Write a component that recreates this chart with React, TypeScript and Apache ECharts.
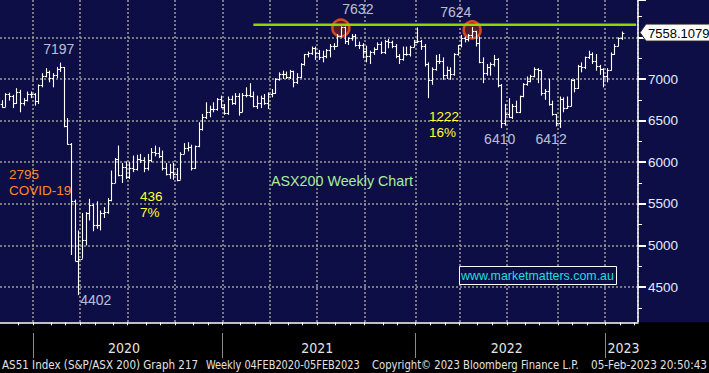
import React, { useEffect, useRef } from 'react';
import * as echarts from 'echarts';

// ---------- data (weekly OHLC, week ending Friday) ----------
const FIRST_WEEK_ENDING = '2019-11-01';
const TRAILING_EMPTY_WEEKS = 4;

const opens = [
  6700, 6669, 6814, 6794, 6715, 6846, 6707, 6749, 6817, 6821,
  6733, 6929, 7041, 7090, 7017, 7046, 7125, 7139, 6441, 6218,
  5539, 4817, 4842, 5067, 5387, 5487, 5242, 5246, 5391, 5405,
  5550, 5755, 6036, 5847, 5942, 5819, 5935, 5919, 6033, 6025,
  5928, 6028, 6126, 6111, 6073, 5925, 5859, 5878, 5864, 5792,
  6102, 6167, 6184, 5927, 6190, 6405, 6539, 6601, 6636, 6643,
  6756, 6664, 6587, 6758, 6715, 6800, 6607, 6806, 6805, 6793,
  6673, 6711, 6767, 6708, 6824, 6829, 6995, 7063, 7061, 7025,
  7092, 6959, 7030, 7179, 7296, 7312, 7369, 7308, 7265, 7273,
  7347, 7394, 7392, 7522, 7628, 7460, 7488, 7522, 7406, 7403,
  7342, 7276, 7320, 7362, 7415, 7324, 7457, 7443, 7396, 7279,
  7241, 7305, 7304, 7387, 7444, 7453, 7393, 7175, 6988, 7120,
  7217, 7221, 7049, 7111, 7064, 7296, 7406, 7493, 7479, 7523,
  7574, 7435, 7205, 7075, 7145, 7182, 7238, 6932, 6475, 6578,
  6548, 6677, 6605, 6791, 6945, 6974, 7032, 7115, 7104, 6829,
  6855, 6697, 6574, 6474, 6762, 6646, 6677, 6986, 6892, 7158,
  7142, 7259, 7301, 7213, 7152, 7115, 7039, 7110, 7303, 7395,
  7493,
];
const highs = [
  6745, 6830, 6835, 6810, 6890, 6870, 6770, 6850, 6850, 6830,
  6935, 7070, 7130, 7100, 7070, 7145, 7197, 7145, 6530, 6230,
  5550, 5180, 5390, 5400, 5560, 5500, 5530, 5420, 5460, 5570,
  5900, 6050, 6200, 5990, 6010, 6000, 6080, 6090, 6100, 6060,
  6100, 6170, 6200, 6180, 6140, 5990, 5980, 5990, 5930, 6120,
  6230, 6240, 6210, 6200, 6480, 6580, 6720, 6680, 6720, 6770,
  6800, 6700, 6790, 6800, 6830, 6830, 6830, 6900, 6950, 6850,
  6800, 6800, 6820, 6840, 6880, 7010, 7080, 7100, 7090, 7110,
  7100, 7070, 7190, 7300, 7330, 7390, 7390, 7350, 7340, 7360,
  7420, 7430, 7540, 7632, 7630, 7500, 7540, 7540, 7450, 7430,
  7400, 7340, 7380, 7440, 7450, 7470, 7480, 7460, 7420, 7300,
  7390, 7390, 7400, 7470, 7620, 7470, 7420, 7200, 7140, 7290,
  7300, 7260, 7150, 7140, 7310, 7410, 7530, 7510, 7540, 7624,
  7580, 7510, 7260, 7180, 7200, 7290, 7250, 6940, 6700, 6770,
  6700, 6740, 6800, 6950, 7030, 7050, 7140, 7130, 7110, 6880,
  7000, 6740, 6580, 6790, 6780, 6790, 7000, 7000, 7170, 7200,
  7270, 7340, 7320, 7300, 7170, 7130, 7130, 7320, 7420, 7500,
  7570,
];
const lows = [
  6655, 6665, 6740, 6650, 6700, 6600, 6680, 6730, 6770, 6680,
  6700, 6900, 7020, 6960, 6900, 7010, 7085, 6420, 6210, 4885,
  4810, 4402, 4840, 5000, 5300, 5170, 5200, 5180, 5330, 5380,
  5530, 5750, 5830, 5750, 5800, 5800, 5880, 5900, 5990, 5880,
  5900, 6000, 6070, 6050, 5900, 5840, 5800, 5790, 5770, 5790,
  6100, 6130, 5900, 5920, 6180, 6380, 6520, 6540, 6600, 6620,
  6650, 6570, 6570, 6690, 6690, 6560, 6600, 6780, 6780, 6660,
  6640, 6650, 6690, 6640, 6780, 6820, 6980, 7000, 7000, 7000,
  6900, 6940, 7010, 7160, 7260, 7290, 7230, 7230, 7200, 7250,
  7260, 7350, 7390, 7500, 7420, 7410, 7460, 7390, 7360, 7250,
  7200, 7180, 7290, 7350, 7300, 7300, 7370, 7370, 7250, 7180,
  7220, 7280, 7270, 7380, 7430, 7350, 7150, 6770, 6930, 7100,
  7180, 6990, 7000, 6990, 7040, 7280, 7380, 7440, 7450, 7490,
  7390, 7190, 6950, 7040, 7040, 7150, 6900, 6410, 6440, 6530,
  6520, 6590, 6590, 6780, 6920, 6960, 7020, 6950, 6800, 6750,
  6680, 6560, 6430, 6412, 6600, 6640, 6670, 6840, 6880, 7080,
  7120, 7240, 7180, 7100, 7050, 6900, 6960, 7100, 7290, 7390,
  7470,
];
const closes = [
  6669, 6814, 6794, 6715, 6846, 6707, 6749, 6817, 6821, 6733,
  6929, 7041, 7090, 7017, 7046, 7125, 7139, 6441, 6218, 5539,
  4817, 4842, 5067, 5387, 5487, 5242, 5246, 5391, 5405, 5550,
  5755, 6036, 5847, 5942, 5819, 5935, 5919, 6033, 6025, 5928,
  6028, 6126, 6111, 6073, 5925, 5859, 5878, 5864, 5792, 6102,
  6167, 6184, 5927, 6190, 6405, 6539, 6601, 6636, 6643, 6756,
  6664, 6587, 6758, 6715, 6800, 6607, 6806, 6805, 6793, 6673,
  6711, 6767, 6708, 6824, 6829, 6995, 7063, 7061, 7025, 7092,
  6959, 7030, 7179, 7296, 7312, 7369, 7308, 7265, 7273, 7347,
  7394, 7392, 7522, 7628, 7460, 7488, 7522, 7406, 7403, 7342,
  7276, 7320, 7362, 7415, 7324, 7457, 7443, 7396, 7279, 7241,
  7305, 7304, 7387, 7444, 7453, 7393, 7175, 6988, 7120, 7217,
  7221, 7049, 7111, 7064, 7296, 7406, 7493, 7479, 7523, 7574,
  7435, 7205, 7075, 7145, 7182, 7238, 6932, 6475, 6578, 6548,
  6677, 6605, 6791, 6945, 6974, 7032, 7115, 7104, 6829, 6855,
  6697, 6574, 6474, 6762, 6646, 6677, 6986, 6892, 7158, 7142,
  7259, 7301, 7213, 7152, 7115, 7039, 7110, 7303, 7395, 7493,
  7558.1079,
];

const LAST_PRICE = 7558.1079;

// annotated extremes (week index, value)
const highNotes = [
  { week: 16, value: 7197 },
  { week: 93, value: 7632 },
  { week: 129, value: 7624 },
];
const lowNotes = [
  { week: 21, value: 4402 },
  { week: 137, value: 6410 },
  { week: 153, value: 6412 },
];
const circledHighs = [
  { week: 93, value: 7612 },
  { week: 129, value: 7590 },
];
const resistance = { fromWeek: 69, toWeek: 174, value: 7652 };

// y axis
const Y_MIN = 4000;
const Y_STEP = 500;

// year labels (text, boundary index where it is centred)
const yearLabels = [
  { text: '2020', at: 34 },
  { text: '2021', at: 87 },
  { text: '2022', at: 139 },
  { text: '2023', at: 171 },
];

const footerTexts = [
  'AS51 Index (S&P/ASX 200) Graph 217',
  'Weekly 04FEB2020-05FEB2023',
  'Copyright\u00A9 2023 Bloomberg Finance L.P.',
  '05-Feb-2023 20:50:43',
];

// ---------- layout / style ----------
const W = 709;
const H = 373;
const NAVY = '#0e0e46';
const PLOT_RIGHT = 638;
const PLOT_BOTTOM = 322.3;
// pixel geometry of the value scale: 7000 sits at y=79, 500 points = 41.6px
const Y7000 = 79;
const PX_PER_500 = 41.6;
const Y_MAX = 7000 + (Y7000 / PX_PER_500) * 500; // value at the top edge (y = 0)
const GRID_BOTTOM_Y = Y7000 + ((7000 - Y_MIN) / 500) * PX_PER_500;

const noteOffsets: Record<number, [number, number]> = {
  16: [-1.4, -14],
  93: [17, -17.5],
  129: [-16.4, -15],
  21: [17.4, 4.6],
  137: [-1.6, 10.6],
  153: [-8.5, 10.8],
};
const footerLayout = [
  { x: 2, width: 196 },
  { x: 206, width: 154 },
  { x: 372, width: 207 },
  { x: 591, width: 116 },
];
const NARROW = "'Liberation Sans Narrow', 'Arial Narrow', 'DejaVu Sans Condensed', Arial, sans-serif";

function addDays(iso: string, n: number): string {
  const d = new Date(iso + 'T00:00:00Z');
  d.setUTCDate(d.getUTCDate() + n);
  return d.toISOString().slice(0, 10);
}

const weekCount = closes.length + TRAILING_EMPTY_WEEKS;
const weeks = Array.from({ length: weekCount }, (_, i) => addDays(FIRST_WEEK_ENDING, 7 * i));
const boundaries = Array.from({ length: weekCount + 1 }, (_, i) => addDays(FIRST_WEEK_ENDING, 7 * i));

const monthOf = (d: string) => d.slice(5, 7);
const isMonthStart = (list: string[], i: number) => i > 0 && i < list.length && monthOf(list[i]) !== monthOf(list[i - 1]);
const isQuarterStart = (list: string[], i: number) =>
  isMonthStart(list, i) && ['01', '04', '07', '10'].includes(monthOf(list[i]));
const isYearStart = (list: string[], i: number) => isMonthStart(list, i) && monthOf(list[i]) === '01';

function textWidth(text: string, font: string): number {
  const ctx = document.createElement('canvas').getContext('2d');
  if (!ctx) return 0;
  ctx.font = font;
  return ctx.measureText(text).width;
}

const dotted = { color: '#9a9a9a', width: 1.5, type: [2, 2] as number[] };

function buildOption(): any {
  const ohlc = closes.map((c, i) => [i, opens[i], highs[i], lows[i], c]);
  return {
    animation: false,
    backgroundColor: NAVY,
    grid: {
      left: 0,
      right: W - PLOT_RIGHT,
      top: 0,
      bottom: H - GRID_BOTTOM_Y,
      containLabel: false,
    },
    xAxis: [
      {
        type: 'category',
        data: weeks,
        boundaryGap: true,
        axisLine: { show: false, onZero: false },
        axisTick: { show: false },
        axisLabel: { show: false },
        splitLine: {
          show: true,
          interval: (i: number) => isQuarterStart(weeks, i),
          lineStyle: dotted,
        },
      },
      {
        type: 'category',
        data: boundaries,
        boundaryGap: false,
        position: 'bottom',
        offset: PLOT_BOTTOM - GRID_BOTTOM_Y,
        z: 10,
        axisLine: { show: true, onZero: false, lineStyle: { color: '#ffffff', width: 1.5 } },
        axisTick: {
          show: true,
          interval: (i: number) => isMonthStart(boundaries, i),
          length: 3,
          lineStyle: { color: '#ffffff', width: 1 },
        },
        axisLabel: { show: false },
        splitLine: { show: false },
      },
      {
        type: 'category',
        data: boundaries,
        boundaryGap: false,
        position: 'bottom',
        offset: 333 - GRID_BOTTOM_Y,
        z: 10,
        axisLine: { show: false, onZero: false },
        axisTick: {
          show: true,
          interval: (i: number) => isYearStart(boundaries, i),
          length: 25,
          lineStyle: { color: '#8a8a8a', width: 1 },
        },
        axisLabel: {
          show: true,
          interval: (i: number) => yearLabels.some((y) => y.at === i),
          formatter: (_v: string, i: number) => {
            const f = yearLabels.find((y) => y.at === i);
            return f ? f.text : '';
          },
          margin: 8,
          color: '#e4e4e4',
          fontSize: 14,
          fontFamily: NARROW,
        },
        splitLine: { show: false },
      },
    ],
    yAxis: {
      type: 'value',
      position: 'right',
      min: Y_MIN,
      max: Y_MAX,
      interval: Y_STEP,
      axisLine: { show: true, lineStyle: { color: '#ffffff', width: 1.5 } },
      axisTick: { show: true, length: 8, lineStyle: { color: '#ffffff', width: 2 } },
      minorTick: { show: true, splitNumber: 2, length: 4, lineStyle: { color: '#ffffff', width: 1 } },
      axisLabel: {
        margin: 10,
        color: '#e2eaff',
        fontSize: 13.5,
        fontFamily: 'Arial, sans-serif',
        showMaxLabel: false,
        showMinLabel: false,
        // the 7500 label sits under the last-price tag in the reference
        formatter: (v: number) =>
          v <= Y_MIN || v >= Y_MAX - 1 || Math.abs(v - LAST_PRICE) < 100 ? '' : String(v),
      },
      splitLine: { show: true, showMaxLine: false, showMinLine: false, lineStyle: dotted },
    },
    series: [
      {
        type: 'scatter',
        name: 'circles',
        z: 1,
        silent: true,
        symbol: 'circle',
        symbolSize: 17,
        itemStyle: { color: 'rgba(110,36,30,0.92)', borderColor: '#ff5a1a', borderWidth: 2.5 },
        data: circledHighs.map((c) => [c.week, c.value]),
      },
      {
        type: 'line',
        name: 'resistance',
        z: 2,
        silent: true,
        symbol: 'none',
        lineStyle: { color: '#94d200', width: 2.5 },
        data: [
          [resistance.fromWeek, resistance.value],
          [resistance.toWeek, resistance.value],
        ],
      },
      {
        type: 'custom',
        name: 'AS51',
        z: 3,
        silent: true,
        data: ohlc,
        encode: { x: 0, y: [1, 2, 3, 4] },
        renderItem: (_p: any, api: any) => {
          const i = api.value(0);
          const o = api.value(1);
          const h = api.value(2);
          const l = api.value(3);
          const c = api.value(4);
          const top = api.coord([i, Math.max(o, h, l, c)]);
          const bot = api.coord([i, Math.min(o, h, l, c)]);
          const po = api.coord([i, o]);
          const pc = api.coord([i, c]);
          const half = api.size([1, 0])[0] / 2;
          const x = Math.round(top[0]) + 0.5;
          const yo = Math.round(po[1]) + 0.5;
          const yc = Math.round(pc[1]) + 0.5;
          const style = { stroke: '#ffffff', lineWidth: 1.1 };
          return {
            type: 'group',
            children: [
              { type: 'line', shape: { x1: x, y1: top[1], x2: x, y2: bot[1] }, style },
              { type: 'line', shape: { x1: x - half, y1: yo, x2: x, y2: yo }, style },
              { type: 'line', shape: { x1: x, y1: yc, x2: x + half, y2: yc }, style },
            ],
          };
        },
      },
      {
        type: 'scatter',
        name: 'notes',
        z: 4,
        silent: true,
        symbolSize: 1,
        itemStyle: { color: 'rgba(0,0,0,0)' },
        label: {
          show: true,
          position: 'inside',
          color: '#e6eeff',
          fontSize: 14,
          fontFamily: 'Arial, sans-serif',
          formatter: (p: any) => String(p.value[1]),
        },
        data: [...highNotes, ...lowNotes].map((n) => ({
          value: [n.week, n.value],
          label: { offset: noteOffsets[n.week] || [0, 0] },
        })),
      },
    ],
  };
}

function buildGraphics(tagY: number): any[] {
  const g: any[] = [];
  // bottom strip
  g.push({
    type: 'rect',
    silent: true,
    z: 5,
    shape: { x: 0, y: PLOT_BOTTOM, width: W, height: H - PLOT_BOTTOM },
    style: { fill: '#000000' },
  });
  const txt = (text: string, x: number, y: number, fill: string, size: number) => ({
    type: 'text',
    silent: true,
    z: 20,
    x,
    y,
    style: {
      text,
      fill,
      fontSize: size,
      fontFamily: 'Arial, sans-serif',
      align: 'left',
      verticalAlign: 'middle',
    },
  });
  g.push(txt('2795', 9, 174, '#ff8a1c', 13.5));
  g.push(txt('COVID-19', 9, 190, '#ff8a1c', 13.5));
  g.push(txt('436', 140, 196.5, '#ffff30', 13.5));
  g.push(txt('7%', 140, 212, '#ffff30', 13.5));
  g.push(txt('1222', 429, 116, '#ffff30', 13.5));
  g.push(txt('16%', 429, 132, '#ffff30', 13.5));
  g.push(txt('ASX200 Weekly Chart', 271, 181, '#a8eca0', 14.3));
  // website box
  g.push({
    type: 'rect',
    silent: true,
    z: 20,
    shape: { x: 459.5, y: 266.5, width: 157, height: 18 },
    style: { fill: NAVY, stroke: '#ffffff', lineWidth: 1 },
  });
  g.push(txt('www.marketmatters.com.au', 461, 276, '#20dede', 12.4));
  // footer
  footerTexts.forEach((t, i) => {
    const size = 11.5;
    const w = textWidth(t, `${size}px ${NARROW}`);
    const s = w > 0 ? footerLayout[i].width / w : 1;
    g.push({
      type: 'text',
      silent: true,
      z: 20,
      x: footerLayout[i].x,
      y: 365,
      scaleX: s,
      style: {
        text: t,
        fill: '#e2e2e2',
        fontSize: size,
        fontFamily: NARROW,
        align: 'left',
        verticalAlign: 'middle',
      },
    });
  });
  // last price tag
  const x0 = PLOT_RIGHT + 2;
  g.push({
    type: 'polygon',
    silent: true,
    z: 30,
    shape: {
      points: [
        [x0, tagY],
        [x0 + 6, tagY - 8.5],
        [W + 2, tagY - 8.5],
        [W + 2, tagY + 8.5],
        [x0 + 6, tagY + 8.5],
      ],
    },
    style: { fill: '#ffffff', stroke: '#222222', lineWidth: 1 },
  });
  g.push({
    type: 'text',
    silent: true,
    z: 31,
    x: x0 + 8,
    y: tagY + 0.5,
    style: {
      text: String(LAST_PRICE),
      fill: '#000000',
      fontSize: 13,
      fontFamily: 'Arial, sans-serif',
      align: 'left',
      verticalAlign: 'middle',
    },
  });
  return g;
}

export default function App() {
  const ref = useRef<HTMLDivElement>(null);
  useEffect(() => {
    const el = ref.current;
    if (!el) return;
    const chart = echarts.init(el, undefined, { renderer: 'svg' });
    chart.setOption(buildOption());
    const tagY = chart.convertToPixel({ yAxisIndex: 0 }, LAST_PRICE) as unknown as number;
    chart.setOption({ graphic: buildGraphics(typeof tagY === 'number' ? tagY : 32.6) });
    return () => chart.dispose();
  }, []);
  return (
    <div
      ref={ref}
      style={{ position: 'fixed', left: 0, top: 0, width: W, height: H, background: NAVY }}
    />
  );
}
